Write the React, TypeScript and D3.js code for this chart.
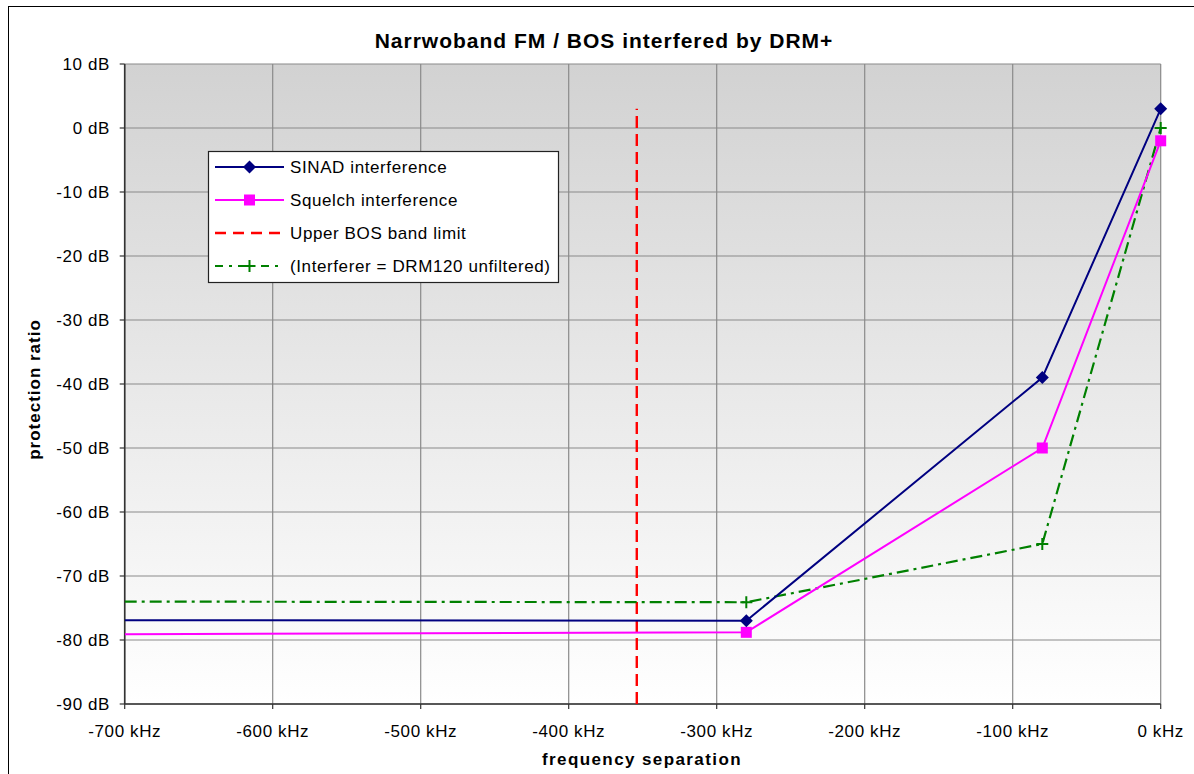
import React from 'react';
import * as d3 from 'd3';

// values
const freqs = [-700, -280, -80, 0];
const sinad = [-76.9, -77.0, -39, 3];
const squelch = [-79.1, -78.8, -50, -2];
const unfiltered = [-74.0, -74.1, -65, 0];
const bosLimitFreq = -354;
const bosLimitTop = 3;

const xTicks = [-700, -600, -500, -400, -300, -200, -100, 0];
const yTicks = [10, 0, -10, -20, -30, -40, -50, -60, -70, -80, -90];

const legendLabels = [
  'SINAD interference',
  'Squelch interference',
  'Upper BOS band limit',
  '(Interferer = DRM120 unfiltered)',
];

const W = 1194;
const H = 774;
const plot = { left: 124.7, right: 1160.7, top: 64, bottom: 704 };
const font = 'Arial, "Liberation Sans", sans-serif';

const x = d3.scaleLinear().domain([-700, 0]).range([plot.left, plot.right]);
const y = d3.scaleLinear().domain([-90, 10]).range([plot.bottom, plot.top]);

const toPoints = (vals: number[]) => freqs.map((f, i) => ({ f, v: vals[i] }));
const line = d3
  .line<{ f: number; v: number }>()
  .x((d) => x(d.f))
  .y((d) => y(d.v));

const BLUE = '#000080';
const PINK = '#ff00ff';
const GREEN = '#008000';
const RED = '#ff0000';
const GREEN_DASH = '12 5 3 5';
const RED_DASH = '12 6';

const Diamond = ({ cx, cy }: { cx: number; cy: number }) => (
  <path d={`M${cx},${cy - 6.5}L${cx + 6.5},${cy}L${cx},${cy + 6.5}L${cx - 6.5},${cy}Z`} fill={BLUE} />
);
const Square = ({ cx, cy }: { cx: number; cy: number }) => (
  <rect x={cx - 5.5} y={cy - 5.5} width={11} height={11} fill={PINK} />
);
const Plus = ({ cx, cy }: { cx: number; cy: number }) => (
  <path d={`M${cx - 6},${cy}H${cx + 6}M${cx},${cy - 6}V${cy + 6}`} stroke={GREEN} strokeWidth={2} />
);

export default function App() {
  const sinadPts = toPoints(sinad);
  const squelchPts = toPoints(squelch);
  const unfPts = toPoints(unfiltered);
  const shown = (d: { f: number }) => d.f > -700;

  const lg = { x: 208.5, y: 151.5, w: 350, h: 131 };
  const rowY = (i: number) => 167 + i * 33;

  return (
    <svg
      width={W}
      height={H}
      style={{ position: 'absolute', left: 0, top: 0, background: '#fff' }}
      fontFamily={font}
    >
      <defs>
        <linearGradient id="bg" x1="0" y1="0" x2="0" y2="1">
          <stop offset="0%" stopColor="#d2d2d2" />
          <stop offset="100%" stopColor="#ffffff" />
        </linearGradient>
        <clipPath id="clip">
          <rect x={plot.left} y={plot.top - 8} width={plot.right - plot.left + 8} height={plot.bottom - plot.top + 8} />
        </clipPath>
      </defs>

      {/* outer chart frame */}
      <rect x={8.5} y={6.5} width={W} height={H} fill="#fff" stroke="#000" strokeWidth={1} />

      {/* plot background */}
      <rect
        x={plot.left}
        y={plot.top}
        width={plot.right - plot.left}
        height={plot.bottom - plot.top}
        fill="url(#bg)"
      />

      {/* grid */}
      {xTicks.map((t) => (
        <line key={'gx' + t} x1={x(t)} x2={x(t)} y1={plot.top} y2={plot.bottom} stroke="#8a8a8a" strokeWidth={1.2} />
      ))}
      {yTicks.map((t) => (
        <line key={'gy' + t} x1={plot.left} x2={plot.right} y1={y(t)} y2={y(t)} stroke="#8a8a8a" strokeWidth={1.2} />
      ))}

      {/* axes */}
      <line x1={plot.left} x2={plot.left} y1={plot.top} y2={plot.bottom} stroke="#333" strokeWidth={1.6} />
      <line x1={plot.left} x2={plot.right} y1={plot.bottom} y2={plot.bottom} stroke="#333" strokeWidth={1.6} />
      {yTicks.map((t) => (
        <g key={'ty' + t}>
          <line x1={plot.left - 5} x2={plot.left} y1={y(t)} y2={y(t)} stroke="#333" strokeWidth={1.2} />
          <text x={110} y={y(t) + 6} textAnchor="end" fontSize={17} letterSpacing={0.6} fill="#000">
            {`${t} dB`}
          </text>
        </g>
      ))}
      {xTicks.map((t) => (
        <g key={'tx' + t}>
          <line x1={x(t)} x2={x(t)} y1={plot.bottom} y2={plot.bottom + 5} stroke="#333" strokeWidth={1.2} />
          <text x={x(t)} y={737} textAnchor="middle" fontSize={17} letterSpacing={0.6} fill="#000">
            {`${t} kHz`}
          </text>
        </g>
      ))}

      {/* series */}
      <g clipPath="url(#clip)">
        <line
          x1={x(bosLimitFreq)}
          x2={x(bosLimitFreq)}
          y1={y(-90)}
          y2={y(bosLimitTop)}
          stroke={RED}
          strokeWidth={2.4}
          strokeDasharray={RED_DASH}
        />
        <path d={line(unfPts) ?? ''} fill="none" stroke={GREEN} strokeWidth={2.2} strokeDasharray={GREEN_DASH} />
        <path d={line(squelchPts) ?? ''} fill="none" stroke={PINK} strokeWidth={2} />
        <path d={line(sinadPts) ?? ''} fill="none" stroke={BLUE} strokeWidth={2} />
        {unfPts.filter(shown).map((d) => (
          <Plus key={'p' + d.f} cx={x(d.f)} cy={y(d.v)} />
        ))}
        {squelchPts.filter(shown).map((d) => (
          <Square key={'s' + d.f} cx={x(d.f)} cy={y(d.v)} />
        ))}
        {sinadPts.filter(shown).map((d) => (
          <Diamond key={'d' + d.f} cx={x(d.f)} cy={y(d.v)} />
        ))}
      </g>

      {/* legend */}
      <rect x={lg.x} y={lg.y} width={lg.w} height={lg.h} fill="#fff" stroke="#222" strokeWidth={1.2} />
      <line x1={215} x2={284} y1={rowY(0)} y2={rowY(0)} stroke={BLUE} strokeWidth={2} />
      <Diamond cx={249.5} cy={rowY(0)} />
      <line x1={215} x2={284} y1={rowY(1)} y2={rowY(1)} stroke={PINK} strokeWidth={2} />
      <Square cx={249.5} cy={rowY(1)} />
      <line x1={215} x2={284} y1={rowY(2)} y2={rowY(2)} stroke={RED} strokeWidth={2.4} strokeDasharray="11 7" />
      <line x1={215} x2={284} y1={rowY(3)} y2={rowY(3)} stroke={GREEN} strokeWidth={2.2} strokeDasharray="8 6 3 6" />
      <Plus cx={249.5} cy={rowY(3)} />
      {legendLabels.map((l, i) => (
        <text key={l} x={290} y={rowY(i) + 6} fontSize={17} letterSpacing={0.6} fill="#000">
          {l}
        </text>
      ))}

      {/* titles */}
      <text x={604} y={48} textAnchor="middle" fontSize={21} fontWeight="bold" letterSpacing={1} fill="#000">
        Narrwoband FM / BOS interfered by DRM+
      </text>
      <text x={642} y={765} textAnchor="middle" fontSize={17} fontWeight="bold" letterSpacing={1.4} fill="#000">
        frequency separation
      </text>
      <text
        transform={`translate(40,${389.5}) rotate(-90)`}
        textAnchor="middle"
        fontSize={17}
        fontWeight="bold"
        letterSpacing={1}
        fill="#000"
      >
        protection ratio
      </text>
    </svg>
  );
}
